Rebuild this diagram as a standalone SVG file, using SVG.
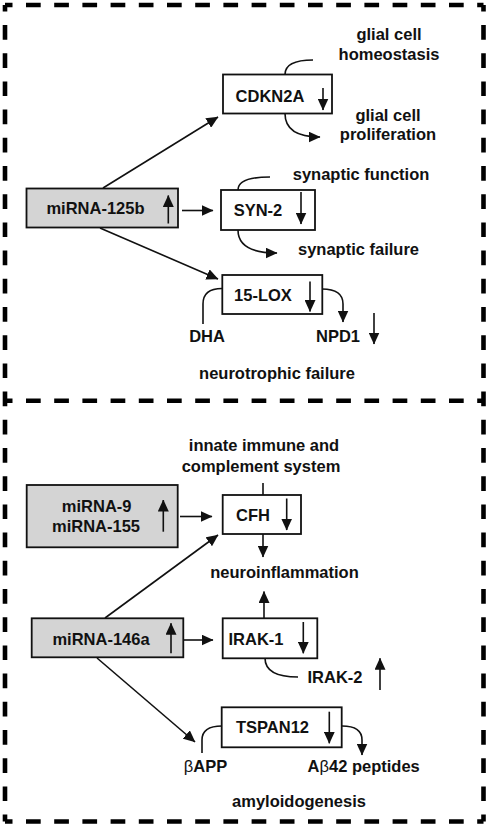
<svg xmlns="http://www.w3.org/2000/svg" width="490" height="832" viewBox="0 0 490 832">
<style>
text{font-family:"Liberation Sans",Arial,sans-serif;font-weight:bold;font-size:16.5px;fill:#111;text-anchor:middle}
.box{fill:#fff;stroke:#111;stroke-width:1.8}
.mi{fill:#d4d4d4;stroke:#111;stroke-width:1.8}
.ln{fill:none;stroke:#111;stroke-width:1.6}
.ar{fill:none;stroke:#111;stroke-width:1.6;marker-end:url(#ah)}
.fr{fill:none;stroke:#000;stroke-width:4.6;stroke-dasharray:14.7 13.5}
</style>
<defs>
<marker id="ah" markerUnits="userSpaceOnUse" markerWidth="12" markerHeight="11" refX="11.5" refY="5.5" orient="auto">
<path d="M0,0 L12,5.5 L0,11 z" fill="#111"/>
</marker>
</defs>
<rect width="490" height="832" fill="#fff"/>
<g id="frame">
<line class="fr" x1="5" y1="5" x2="483.5" y2="5" stroke-dashoffset="7.2"/>
<line class="fr" x1="5" y1="400.7" x2="483.5" y2="400.7" stroke-dashoffset="7.2"/>
<line class="fr" x1="5" y1="821.5" x2="483.5" y2="821.5" stroke-dashoffset="7.2"/>
<line class="fr" x1="5" y1="5" x2="5" y2="821.5" stroke-dashoffset="8.2"/>
<line class="fr" x1="483.5" y1="5" x2="483.5" y2="821.5" stroke-dashoffset="8.2"/>
</g>
<g id="connectors">
<line class="ar" x1="103" y1="188" x2="218" y2="117"/>
<line class="ar" x1="182" y1="210.5" x2="213" y2="210.5"/>
<line class="ar" x1="100" y1="228" x2="218" y2="279"/>
<path class="ln" d="M285,74.5 Q285,60 313,60"/>
<path class="ar" d="M285,113.5 Q285,137 320,137"/>
<path class="ln" d="M238,190 Q238,177 270,177"/>
<path class="ar" d="M238,230 Q238,253 277,253"/>
<path class="ln" d="M222,288.5 Q203,288.5 203,304 L203,324"/>
<path class="ar" d="M322,289 Q343,289 343,304 L343,322"/>
<line class="ln" x1="263" y1="483" x2="263" y2="495"/>
<line class="ar" x1="263" y1="534" x2="263" y2="557"/>
<line class="ar" x1="180" y1="516.5" x2="212" y2="516.5"/>
<line class="ar" x1="105" y1="618" x2="218" y2="535"/>
<line class="ar" x1="264" y1="618" x2="264" y2="591.5"/>
<line class="ar" x1="184" y1="640" x2="213" y2="640"/>
<path class="ln" d="M265,658 Q265,677 298,677"/>
<line class="ar" x1="97" y1="658" x2="195" y2="742"/>
<path class="ln" d="M222,726 Q202,726 202,740 L202,753"/>
<path class="ar" d="M342,726 Q362,726 362,740 L362,755"/>
</g>
<g id="cdkn2a">
<rect class="box" x="223" y="74.5" width="109" height="39"/>
<text x="270" y="101.5">CDKN2A</text>
<line class="ar" x1="323" y1="88" x2="323" y2="110"/>
</g>
<g id="glial-homeostasis"><text x="389" y="40">glial cell</text><text x="389" y="59.5">homeostasis</text></g>
<g id="glial-proliferation"><text x="388" y="120.5">glial cell</text><text x="388" y="140">proliferation</text></g>
<g id="mirna-125b">
<rect class="mi" x="26.5" y="188.5" width="151.5" height="39"/>
<text x="95.5" y="213.5">miRNA-125b</text>
<line class="ar" x1="168.3" y1="223.5" x2="168.3" y2="195.5"/>
</g>
<g id="syn2">
<rect class="box" x="221" y="190" width="94" height="40"/>
<text x="258" y="216">SYN-2</text>
<line class="ar" x1="301" y1="192" x2="301" y2="224"/>
</g>
<g id="synaptic-function"><text x="361" y="180">synaptic function</text></g>
<g id="synaptic-failure"><text x="358.5" y="255">synaptic failure</text></g>
<g id="lox15">
<rect class="box" x="222.3" y="275" width="100" height="39"/>
<text x="263" y="300.5">15-LOX</text>
<line class="ar" x1="310" y1="281.5" x2="310" y2="311.5"/>
</g>
<g id="dha"><text x="207" y="341.7">DHA</text></g>
<g id="npd1">
<text x="338" y="341.7">NPD1</text>
<line class="ar" x1="374" y1="313" x2="374" y2="344"/>
</g>
<g id="neurotrophic-failure"><text x="277" y="379">neurotrophic failure</text></g>
<g id="innate-immune"><text x="264" y="450.5">innate immune and</text><text x="261" y="471.5">complement system</text></g>
<g id="cfh">
<rect class="box" x="222.7" y="495" width="78.3" height="39"/>
<text x="253" y="521">CFH</text>
<line class="ar" x1="286.7" y1="498.5" x2="286.7" y2="530"/>
</g>
<g id="neuroinflammation"><text x="284.5" y="578.3">neuroinflammation</text></g>
<g id="mirna-9-155">
<rect class="mi" x="26.7" y="485" width="151" height="62.3"/>
<text x="96.7" y="511.7">miRNA-9</text>
<text x="96" y="531.7">miRNA-155</text>
<line class="ar" x1="163.3" y1="531.7" x2="163.3" y2="500"/>
</g>
<g id="mirna-146a">
<rect class="mi" x="31.7" y="618.3" width="151.6" height="39"/>
<text x="101" y="645">miRNA-146a</text>
<line class="ar" x1="171" y1="653.3" x2="171" y2="623.3"/>
</g>
<g id="irak1">
<rect class="box" x="222.7" y="618.3" width="94.6" height="40"/>
<text x="256" y="645">IRAK-1</text>
<line class="ar" x1="303.3" y1="622" x2="303.3" y2="653.3"/>
</g>
<g id="irak2">
<text x="335" y="683.3">IRAK-2</text>
<line class="ar" x1="380" y1="690" x2="380" y2="658.3"/>
</g>
<g id="tspan12">
<rect class="box" x="221.7" y="707.3" width="120" height="40"/>
<text x="272.5" y="733.3">TSPAN12</text>
<line class="ar" x1="329.3" y1="711.7" x2="329.3" y2="743.3"/>
</g>
<g id="bapp"><text x="205.5" y="771.7"><tspan font-weight="normal">β</tspan>APP</text></g>
<g id="abeta42"><text x="363.7" y="771.7">A<tspan font-weight="normal">β</tspan>42 peptides</text></g>
<g id="amyloidogenesis"><text x="299" y="806.7">amyloidogenesis</text></g>
</svg>
